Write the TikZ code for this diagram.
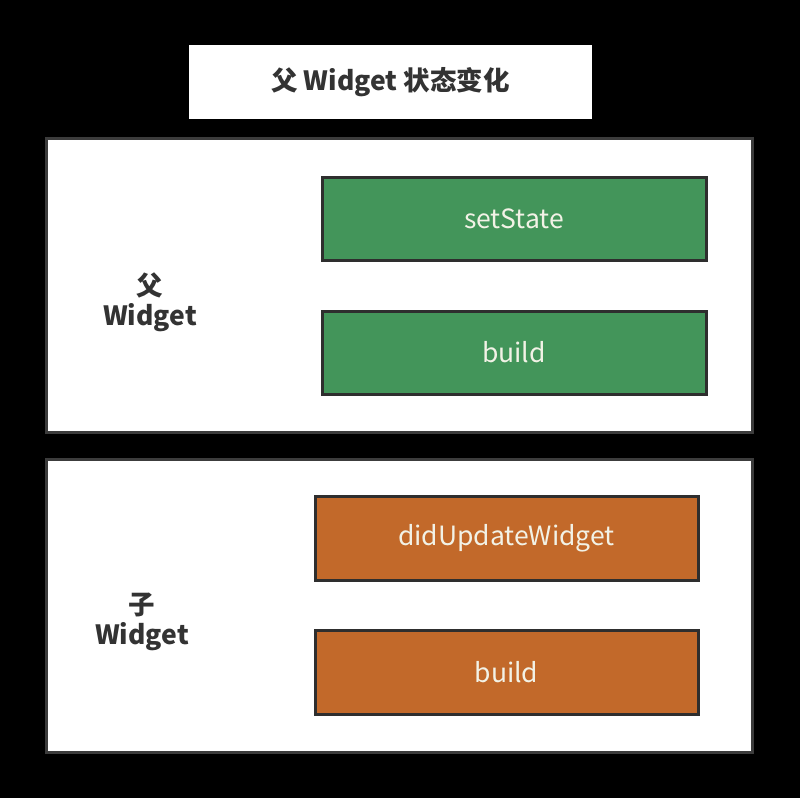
\documentclass[tikz,border=0pt]{standalone}
\usepackage{fontspec}
\setmainfont{Noto Sans CJK SC}
\begin{document}
\begin{tikzpicture}[
  x=1pt, y=-1pt,
  panel/.style={rectangle, fill=white, draw=panelgray, line width=3pt, minimum width=706pt},
  call/.style={rectangle, draw=boxedge, line width=3pt, minimum width=384pt, minimum height=83pt, text=boxtext, font=\fontsize{26.5}{30}\selectfont},
  side/.style={align=center, text=labeltext, font=\fontsize{26.5}{30}\selectfont\bfseries},
]
\definecolor{panelgray}{HTML}{3C3C3C}
\definecolor{boxedge}{HTML}{2E2E2E}
\definecolor{boxtext}{HTML}{F2F2E6}
\definecolor{labeltext}{HTML}{333333}
\definecolor{stategreen}{HTML}{43955A}
\definecolor{childorange}{HTML}{C2692A}
\fill[black] (0,0) rectangle (800,798);
\useasboundingbox (0,0) rectangle (800,798);

\node[rectangle, fill=white, minimum width=403pt, minimum height=74pt, text=labeltext, font=\fontsize{26.5}{30}\selectfont\bfseries] (title) at (390.5,82) {父 Widget 状态变化};

\node[panel, minimum height=294pt] (parent) at (399,285) {};
\node[call, fill=stategreen] (setstate) at (514,218.5) {setState};
\node[call, fill=stategreen] (pbuild) at (514,352.5) {build};
\node[side] (plabel) at (150,302) {父\\Widget};

\node[panel, minimum height=293pt] (child) at (399,605.5) {};
\node[call, fill=childorange, minimum width=383pt, minimum height=84pt] (didupdate) at (506.5,538) {didUpdateWidget};
\node[call, fill=childorange, minimum width=383pt, minimum height=84pt] (cbuild) at (506.5,672.5) {build};
\node[side] (clabel) at (142,622) {子\\Widget};
\end{tikzpicture}
\end{document}
